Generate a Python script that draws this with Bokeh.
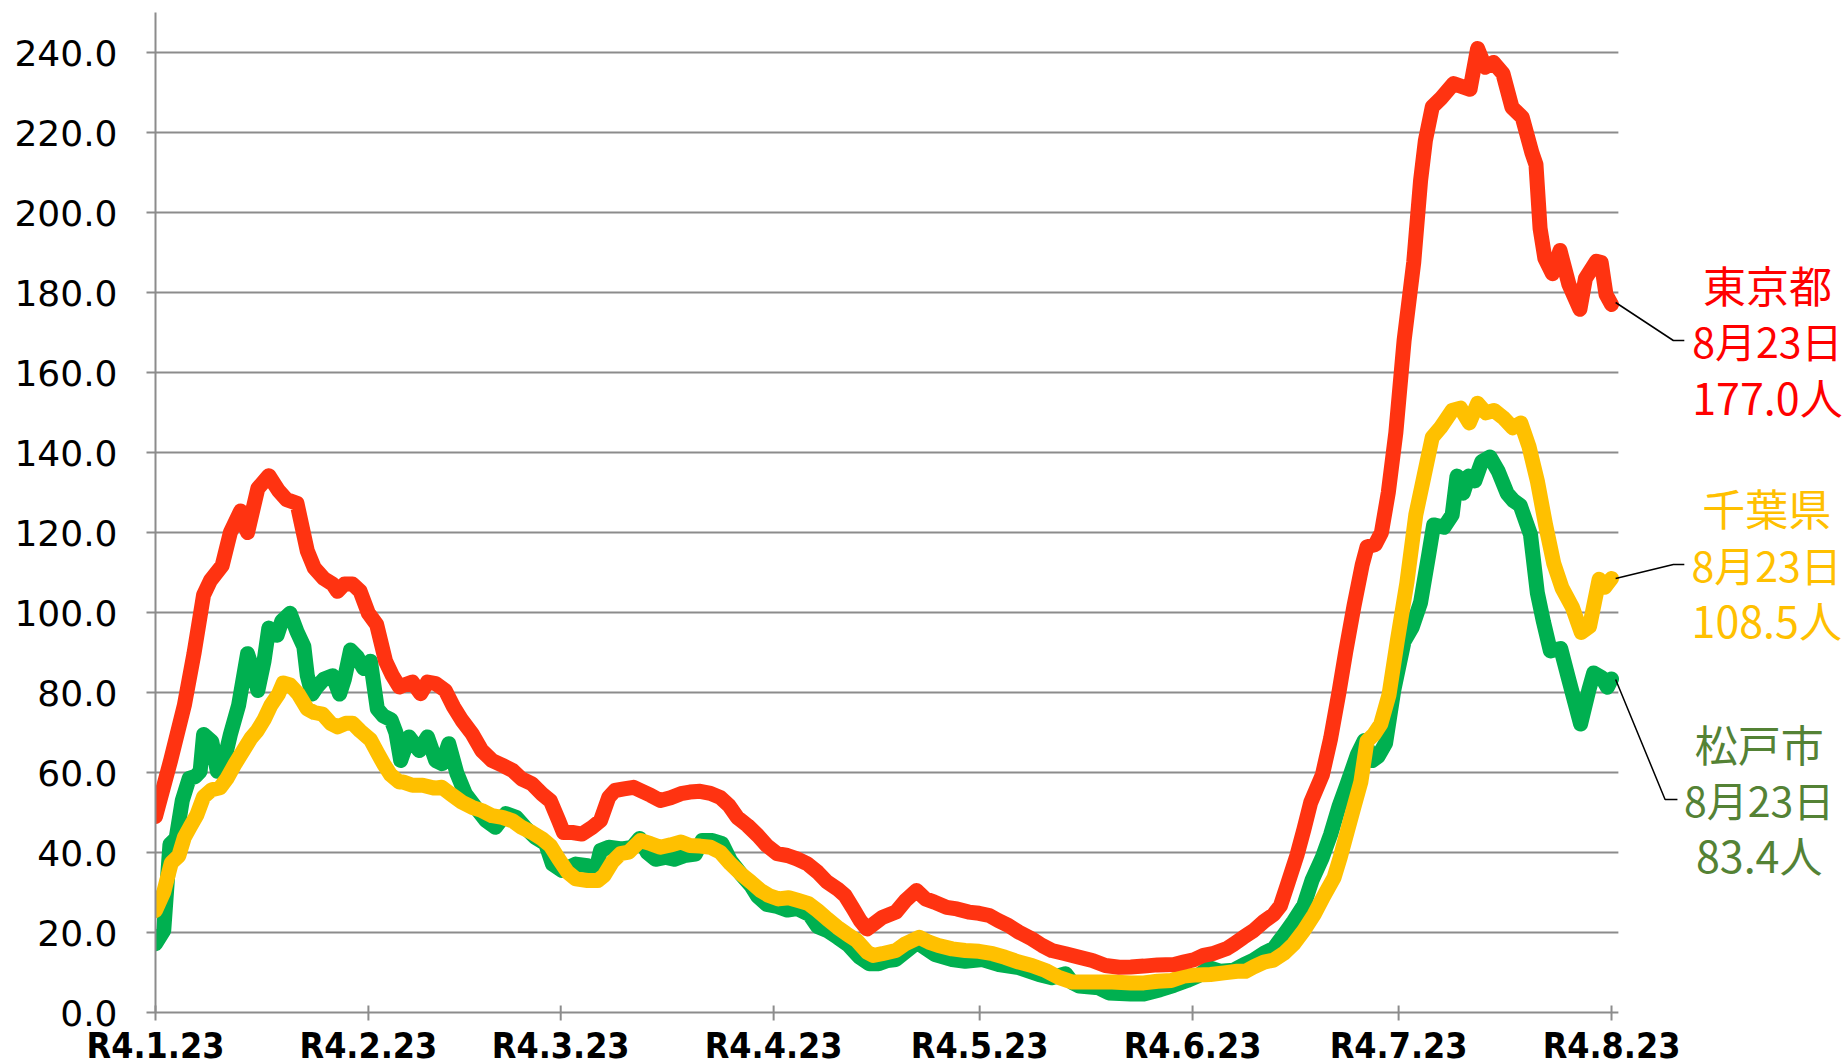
from bokeh.plotting import figure
from bokeh.models import Range1d
from bokeh.core.properties import value
from bokeh.embed import file_html
from bokeh.resources import INLINE

# ---- axis ticks (days since R4.1.23) ----
x_tick_days = [0, 31, 59, 90, 120, 151, 181, 212]
x_tick_labels = ["R4.1.23", "R4.2.23", "R4.3.23", "R4.4.23", "R4.5.23", "R4.6.23", "R4.7.23", "R4.8.23"]
x_last_day = 213
y_ticks = [0, 20, 40, 60, 80, 100, 120, 140, 160, 180, 200, 220, 240]
y_tick_labels = ["0.0", "20.0", "40.0", "60.0", "80.0", "100.0", "120.0", "140.0", "160.0", "180.0", "200.0", "220.0", "240.0"]
y_top = 250

# ---- series (day offset, value) ----
tokyo_day = [0, 2.2, 4.2, 5.6, 7.0, 8.0, 9.7, 10.9, 12.4, 13.4, 14.9, 16.5, 17.9, 19.1, 20.6, 22.1, 23.1, 24.5, 25.8, 26.5,
             27.5, 28.7, 29.8, 31.0, 32.2, 33.5, 34.5, 35.5, 36.1, 37.4, 38.6, 39.6, 40.8, 42.2, 43.4, 44.6, 46.1, 47.5,
             49.0, 50.5, 52.0, 53.3, 54.8, 56.3, 57.5, 58.7, 59.4, 60.7, 62.1, 63.6, 64.8, 66.0, 66.9, 68.2, 69.6,
             70.6, 72.1, 73.5, 75.0, 76.5, 77.8, 79.3, 80.8, 82.2, 83.5, 84.7, 86.2, 87.7, 89.0, 90.5, 92.0, 93.4, 94.9,
             96.4, 97.8, 99.3, 100.4, 101.6, 102.6, 103.6, 104.6, 105.8, 107.8, 109.2, 110.8, 112.1, 113.4, 115.2,
             116.7, 118.4, 119.9, 121.4, 122.7, 124.2, 125.7, 127.6, 129.1, 130.5, 132.5, 134.5, 136.4, 138.3, 140.3,
             142.0, 143.9, 145.9, 148.3, 149.7, 151.2, 152.6, 154.1, 156.0, 157.0, 158.4, 159.9, 161.4, 162.8, 163.8,
             164.8, 166.2, 167.2, 168.2, 169.9, 171.1, 172.3, 173.3, 174.5, 175.7, 176.4, 177.6, 178.5, 179.5, 180.6,
             181.8, 183.2, 184.2, 184.9, 185.9, 187.2, 189.0, 191.4, 192.5, 193.6, 194.8, 196.2, 197.5, 199.0, 200.4,
             201.0, 201.6, 202.3, 203.4, 204.5, 205.8, 207.4, 208.2, 209.8, 210.5, 211.2, 212]
tokyo_val = [49, 63, 76.8, 89.7, 104.4, 108, 111.7, 120, 125.4, 120, 131, 134.2, 130.5, 128.2, 127.3, 115.4, 111.2, 108.5, 107.1, 105.3,
             107.1, 107.1, 105.3, 99.8, 97, 87.8, 84.2, 81.4, 81.8, 82.6, 79.7, 82.6, 82.2, 80.5, 76.4, 73.1, 69.7, 65.5,
             63, 61.8, 60.5, 58.4, 57.2, 54.6, 52.9, 48, 45, 45, 44.6, 46.3, 48, 53.8, 55.5, 55.9, 56.3,
             55.5, 54.3, 53, 53.7, 54.7, 55.1, 55.3, 54.8, 53.8, 51.75, 48.8, 46.75, 44.25, 41.75, 39.7, 39.25, 38.4, 37.2,
             35.1, 32.6, 30.9, 29.25, 25.9, 23, 20.9, 22.2, 23.75, 25.1, 28, 30.5, 28.4, 27.6, 26.3,
             25.9, 25.1, 24.8, 24.25, 23, 21.75, 20.1, 18.4, 16.75, 15.5, 14.7, 13.8, 13, 11.75, 11.3,
             11.4, 11.6, 11.9, 12.0, 12.6, 13.2, 14.3, 14.8, 16, 17.1, 18.8, 20.5, 22.8, 24.5, 26.7,
             31.9, 39.3, 45.7, 52.5, 59.4, 68.5, 79.9, 90.2, 101.6, 111.9, 116.4, 117, 120, 130, 145,
             168, 187.5, 208, 218, 226.4, 228.6, 232.2, 230.8, 241, 236.3, 237.5, 234.7, 226.3, 223.8, 215,
             212, 196, 188.5, 184.7, 190.5, 182, 175.8, 183.5, 187.8, 187.5, 179.5, 177]

chiba_day = [0, 1.2, 2.3, 3.4, 4.2, 5.1, 6.0, 7.0, 8.2, 9.4, 10.4, 11.6, 12.9, 13.9, 14.8, 15.8, 16.8, 17.9, 18.6, 19.6,
             20.8, 22.1, 23.1, 24.3, 25.5, 26.5, 27.7, 28.7, 29.8, 31.3, 32.3, 33.2, 34.2, 35.5, 36.1, 37.4, 38.9, 40.6,
             41.7, 42.9, 44.6, 46.1, 47.5, 49.0, 50.5, 52.0, 53.3, 54.8, 56.3, 57.5, 58.7, 60.0, 61.2, 62.9, 64.4, 65.3,
             66.5, 67.7, 68.9, 70.6, 72.1, 73.5, 75.0, 76.5, 77.8, 79.3, 80.8, 82.2, 83.7, 85.2, 86.7, 88.1, 89.3, 90.7,
             92.2, 93.6, 95.1, 96.4, 97.8, 99.3, 100.6, 102.1, 103.6, 104.5, 105.8, 107.8, 109.2, 111.2, 112.6, 114.0,
             116.0, 117.9, 119.9, 121.9, 123.7, 125.7, 127.6, 129.6, 131.5, 133.5, 136.4, 139.3, 142.0, 143.9, 145.9,
             147.9, 149.7, 151.7, 153.6, 155.6, 157.5, 158.7, 159.9, 161.4, 162.8, 164.3, 165.7, 167.2, 168.7, 170.1,
             171.6, 172.5, 173.5, 174.5, 175.5, 176.4, 177.4, 178.4, 179.6, 180.8, 182.2, 183.5, 184.7, 185.9, 187.1,
             188.8, 190.0, 191.3, 192.5, 193.7, 194.9, 196.3, 197.6, 198.8, 200.0, 201.2, 202.4, 203.6, 204.8, 206.3,
             207.6, 208.8, 210.2, 211.0, 212]
chiba_val = [25.5, 30.1, 37.4, 39.2, 43.8, 46.6, 49.3, 53.9, 55.7, 56.2, 58.5, 62.2, 65.8, 68.6, 70.4, 73.2, 76.8, 79.6, 82.4, 81.9,
             79.6, 75.9, 75, 74.6, 72.3, 71.4, 72.3, 72.3, 70.4, 68.2, 65, 62.2, 59.5, 57.6, 57.6, 56.8, 56.8, 56.1,
             56.3, 54.7, 52.6, 51.3, 50.5, 49.2, 48.8, 47.9, 46.3, 45, 43.4, 41.7, 38.4, 35.1, 33.4, 33, 33, 34.2,
             37.6, 39.7, 40.1, 43, 42.2, 41.3, 41.9, 42.6, 41.75, 41.6, 41.3, 40.1, 37.2, 34.7, 32.6, 30.5, 29.25, 28.4,
             28.7, 28, 27.2, 25.5, 23.4, 21.3, 19.7, 18, 15.1, 14.25, 14.7, 15.5, 17.2, 18.8, 17.6, 16.75,
             15.9, 15.5, 15.3, 14.7, 13.8, 12.6, 11.75, 10.5, 8.8, 7.6, 7.6, 7.6, 7.4, 7.4, 7.8,
             8.0, 9.1, 9.4, 9.5, 9.9, 10.3, 10.3, 11.4, 12.6, 13.1, 14.8, 17.1, 20.5, 24.5, 29.1,
             33.7, 38.8, 45.1, 51.4, 57.6, 67.9, 69.5, 72.1, 79.4, 92.8, 107.4, 124.4, 134.1, 143.8, 146.2,
             150.5, 151.1, 147.4, 152.3, 149.9, 150.5, 148.6, 146.2, 147.4, 141.4, 132.9, 121.9, 112.2, 106.1, 101.3,
             95, 96.5, 108.3, 106.3, 108.5]

matsudo_day = [0, 1.2, 2.1, 3.0, 3.9, 4.9, 5.8, 6.5, 7.0, 8.2, 9.0, 9.9, 10.9, 12.1, 13.4, 14.1, 14.9, 15.8, 16.5, 17.7,
               18.4, 19.6, 20.6, 21.6, 22.1, 22.8, 23.5, 24.5, 25.8, 26.8, 27.5, 28.4, 29.4, 30.3, 31.3, 32.3, 33.2,
               34.3, 35.0, 35.7, 36.9, 38.4, 39.6, 40.8, 41.7, 42.7, 43.9, 45.1, 46.6, 48.1, 49.5, 51.0, 52.5, 53.8,
               55.3, 56.8, 57.8, 59.2, 61.2, 62.9, 64.1, 64.8, 66.0, 67.9, 69.4, 70.5, 71.6, 72.8, 74.2, 75.5, 77.0,
               78.6, 79.6, 81.1, 82.5, 83.7, 85.2, 86.7, 87.7, 89.0, 90.5, 92.0, 93.4, 95.2, 96.4, 97.8, 99.3, 100.8,
               102.4, 103.9, 105.3, 106.6, 107.8, 110.9, 113.5, 116.0, 117.9, 120.4, 122.8, 125.7, 128.6, 130.5,
               132.5, 133.5, 134.5, 137.3, 138.8, 142.0, 143.9, 146.3, 148.3, 150.2, 151.7, 153.4, 155.1, 157.0,
               158.5, 159.9, 161.4, 162.8, 164.3, 165.7, 167.2, 168.4, 169.9, 171.1, 172.3, 173.5, 175.0, 176.0,
               177.2, 178.0, 179.1, 180.3, 181.8, 183.0, 184.2, 185.4, 186.1, 187.6, 188.8, 189.5, 190.4, 191.2,
               192.1, 193.1, 194.3, 195.5, 196.8, 197.7, 198.7, 200.2, 201.2, 202.1, 203.1, 204.6, 205.8, 207.5,
               208.7, 209.4, 210.6, 211.4, 212]
matsudo_val = [17.2, 20.5, 42, 43.5, 53, 58.5, 59, 60.3, 69.5, 67.7, 60.3, 62.2, 69.5, 76.8, 89.7, 86, 80.5, 87.8, 96.1, 94.3,
               97.9, 99.8, 95.2, 91.5, 84.2, 79.6, 81.4, 83.3, 84.2, 79.6, 83.3, 90.6, 88.8, 86, 87.8, 75.9, 74.1,
               73.2, 70, 63, 68.9, 65.5, 68.9, 63, 62.2, 67.2, 59.7, 54.7, 51.3, 48, 46.3, 49.7, 48.8, 46.3,
               43.8, 42.2, 37.1, 35.5, 37.1, 36.7, 35.5, 40.5, 41.3, 40.9, 41.3, 43.5, 40, 38.3, 38.8, 38.3, 39.2,
               39.6, 43, 43, 42.2, 38, 34.7, 31.75, 29, 27, 26.5, 25.6, 26, 24.5, 21.5, 20.5, 18.8, 17,
               14, 12.2, 12.2, 13, 13.25, 17.5, 14.5, 13.25, 12.8, 13.25, 12, 11.2, 9.5, 8.7,
               9.7, 7.5, 6.6, 6.2, 4.9, 4.6, 4.6, 5.7, 6.8, 8.0, 9.1, 11.2, 10.3, 10.6,
               12.0, 13.1, 14.8, 16.0, 19.4, 22.8, 26.8, 33.1, 38.8, 44.5, 51.4, 57.1, 64.5, 68,
               63, 64, 67.3, 80.6, 92.8, 96.4, 102.5, 114.6, 121.9, 121.3, 124.4, 134.1, 129.8, 134.1,
               132.9, 137.7, 138.9, 135.3, 129.8, 128, 126.8, 119.5, 104.9, 97.6, 90.4, 91, 83.1, 72.1,
               80.6, 84.9, 83.7, 81.3, 83.4]

series_names = ["東京都", "千葉県", "松戸市"]
end_date_text = "8月23日"
end_value_texts = ["177.0人", "108.5人", "83.4人"]

# ---- figure: one frame over the whole canvas; axes drawn through the data scales ----
W, H = 1844, 1063
AXIS_PX = 155            # canvas x of day 0
ZERO_PX = 1012           # canvas y of value 0
px_per_day = 6.868
px_per_unit = 4.0
dx = 1 / px_per_day      # one pixel in day units
dy = 1 / px_per_unit     # one pixel in value units
GRID = "#8C8C8C"

p = figure(width=W, height=H, output_backend="svg", toolbar_location=None,
           x_range=Range1d(-AXIS_PX * dx, (W - AXIS_PX) * dx),
           y_range=Range1d(-(H - ZERO_PX) * dy, ZERO_PX * dy),
           min_border_left=0, min_border_right=0, min_border_top=0, min_border_bottom=0)
p.outline_line_color = None
p.background_fill_color = "white"
p.border_fill_color = "white"
p.grid.visible = False
p.axis.visible = False

# horizontal gridlines across the plot area
gy = [t for t in y_ticks if t > 0]
p.segment(x0=[0] * len(gy), y0=gy, x1=[x_last_day] * len(gy), y1=gy, line_color=GRID, line_width=2)

# series
LW = 15
p.line(matsudo_day, matsudo_val, line_color="#00B050", line_width=LW, line_join="round", line_cap="round")
p.line(chiba_day, chiba_val, line_color="#FFC000", line_width=LW, line_join="round", line_cap="round")
p.line(tokyo_day, tokyo_val, line_color="#FF3311", line_width=LW, line_join="round", line_cap="round")

# plot-area clipping on the left of the value axis
p.quad(left=[-10 * dx], right=[0], bottom=[0], top=[y_top], fill_color="white", line_color=None)

# value axis: line, outward ticks, labels
p.segment(x0=[0], y0=[0], x1=[0], y1=[y_top], line_color=GRID, line_width=2)
p.segment(x0=[-9 * dx] * len(y_ticks), y0=y_ticks, x1=[0] * len(y_ticks), y1=y_ticks, line_color=GRID, line_width=2)
p.text(x=[-38 * dx] * len(y_ticks), y=y_ticks, text=y_tick_labels,
       text_font=value("DejaVu Sans"), text_font_size=value("36px"), text_color="black",
       text_align="right", text_baseline="middle")

# date axis: line, crossing ticks, labels
p.segment(x0=[0], y0=[0], x1=[x_last_day], y1=[0], line_color=GRID, line_width=2)
p.segment(x0=x_tick_days, y0=[7 * dy] * len(x_tick_days),
          x1=x_tick_days, y1=[-8 * dy] * len(x_tick_days), line_color=GRID, line_width=2)
p.text(x=x_tick_days, y=[-33 * dy] * len(x_tick_days), text=x_tick_labels,
       text_font=value("DejaVu Sans Condensed"), text_font_style="bold", text_font_size=value("35.5px"),
       text_color="black", text_align="center", text_baseline="alphabetic")

# ---- end-of-series annotations ----
text_colors = ["#FF0000", "#FFC000", "#548235"]
text_x = [234.7, 234.6, 233.5]
text_y = [[182.25, 168.25, 154.25], [126.5, 112.25, 98.5], [67.5, 53.5, 39.75]]
line_sizes = ["43px", "41px", "43px"]
leader_x = [[212.6, 221.0, 222.6], [212.6, 221.0, 222.6], [212.6, 219.8, 221.6]]
leader_y = [[177.5, 168.0, 168.0], [108.5, 112.0, 112.0], [83.25, 53.25, 53.25]]
for i in range(3):
    p.line(leader_x[i], leader_y[i], line_color="black", line_width=1.5)
    texts = [series_names[i], end_date_text, end_value_texts[i]]
    for t, yy, fs in zip(texts, text_y[i], line_sizes):
        p.text(x=[text_x[i]], y=[yy], text=[t],
               text_color=text_colors[i], text_font=value("Noto Sans CJK JP"), text_font_size=value(fs),
               text_align="center", text_baseline="middle")

open("out.html", "w").write(file_html(p, INLINE))
